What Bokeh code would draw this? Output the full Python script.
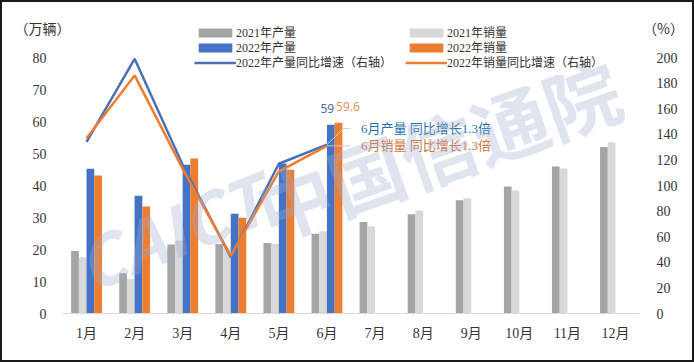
from bokeh.plotting import figure
from bokeh.models import Range1d, LinearAxis, FixedTicker, Legend, LegendItem, Label, ColumnDataSource
from bokeh.transform import dodge
from bokeh.embed import file_html
from bokeh.resources import INLINE
from bokeh.core.properties import value

# ---------------- data ----------------
months = ["1月", "2月", "3月", "4月", "5月", "6月", "7月", "8月", "9月", "10月", "11月", "12月"]
prod_2021 = [19.5, 12.6, 21.6, 21.7, 22.0, 24.9, 28.6, 31.0, 35.4, 39.7, 45.9, 52.0]
sales_2021 = [17.6, 10.8, 22.8, 20.6, 21.7, 25.7, 27.3, 32.2, 36.0, 38.4, 45.3, 53.4]
prod_2022 = [45.2, 36.8, 46.5, 31.2, 46.9, 59.0]
sales_2022 = [43.1, 33.4, 48.4, 29.9, 44.9, 59.6]
prod_growth = [134, 199, 116, 44, 117, 132]
sales_growth = [137, 186, 113, 45, 111, 131]
left_ticks = [0, 10, 20, 30, 40, 50, 60, 70, 80]
right_ticks = [0, 20, 40, 60, 80, 100, 120, 140, 160, 180, 200]
legend_labels = ["2021年产量", "2022年产量", "2022年产量同比增速（右轴）",
                 "2021年销量", "2022年销量", "2022年销量同比增速（右轴）"]
unit_titles = ["（万辆）", "（%）"]
callouts = ["6月产量 同比增长1.3倍", "6月销量 同比增长1.3倍"]
bar_labels = ["59", "59.6"]
watermark = ["CAICT", "中国信通院"]

# ---------------- styles / layout ----------------
SERIF = "Liberation Serif, Noto Sans CJK SC"
CJK = "Noto Sans CJK SC"
C_P21, C_S21, C_P22, C_S22 = "#A5A5A5", "#D9D9D9", "#4472C4", "#ED7D31"
C_LP, C_LS = "#4A70B8", "#ED7D31"
BW = 0.161
W, H = 694, 362
PL, PR, PB = 62, 639, 313            # plot-area edges in pixels
CAT = (PR - PL) / 12                  # pixels per month
PX_L = 3.2                            # pixels per left-axis unit
PX_R = 1.28                           # pixels per right-axis unit

x_all = list(range(12))
x_22 = x_all[:6]

src21 = ColumnDataSource(dict(x=x_all, p=prod_2021, s=sales_2021))
src22 = ColumnDataSource(dict(x=x_22, p=prod_2022, s=sales_2022, gp=prod_growth, gs=sales_growth))

# the frame fills the whole canvas; axes are pinned at fixed locations inside it
p = figure(width=W, height=H, title=None,
           x_range=Range1d(-0.5 - PL / CAT, 11.5 + (W - PR) / CAT),
           y_range=Range1d(-(H - PB) / PX_L, PB / PX_L),
           output_backend="svg", toolbar_location=None, x_axis_type=None, y_axis_type=None,
           min_border_left=0, min_border_right=0, min_border_top=0, min_border_bottom=0)
p.extra_y_ranges = {"pct": Range1d(-(H - PB) / PX_R, PB / PX_R)}
p.outline_line_color = "#1A1A1A"
p.outline_line_width = 3
p.xgrid.visible = False
p.ygrid.visible = False

# bars
r_p21 = p.vbar(x=dodge("x", -0.24), top="p", width=BW, source=src21, fill_color=C_P21, line_color=None)
r_s21 = p.vbar(x=dodge("x", -0.08), top="s", width=BW, source=src21, fill_color=C_S21, line_color=None)
r_p22 = p.vbar(x=dodge("x", 0.08), top="p", width=BW, source=src22, fill_color=C_P22, line_color=None)
r_s22 = p.vbar(x=dodge("x", 0.24), top="s", width=BW, source=src22, fill_color=C_S22, line_color=None)

# growth lines
r_lp = p.line(x="x", y="gp", source=src22, y_range_name="pct", line_color=C_LP, line_width=2.5)
r_ls = p.line(x="x", y="gs", source=src22, y_range_name="pct", line_color=C_LS, line_width=2.5)

def style_axis(ax, standoff):
    ax.major_tick_line_color = None
    ax.minor_tick_line_color = None
    ax.major_label_text_font = SERIF
    ax.major_label_text_font_size = "14px"
    ax.major_label_text_color = "#333333"
    ax.major_label_standoff = standoff

xax = LinearAxis(ticker=FixedTicker(ticks=x_all), fixed_location=0, bounds=(-0.5, 11.5))
xax.major_label_overrides = {i: m for i, m in enumerate(months)}
xax.axis_line_color = "#D9D9D9"
style_axis(xax, 6)
p.add_layout(xax, "below")

ly = LinearAxis(ticker=FixedTicker(ticks=left_ticks), fixed_location=-0.5)
ly.axis_line_color = None
style_axis(ly, 10)
p.add_layout(ly, "left")

ry = LinearAxis(y_range_name="pct", ticker=FixedTicker(ticks=right_ticks), fixed_location=11.5)
ry.axis_line_color = None
style_axis(ry, 11)
p.add_layout(ry, "right")

# unit titles
p.add_layout(Label(x=42, y=H - 27, x_units="screen", y_units="screen", text=unit_titles[0],
                   text_font=CJK, text_font_size="14px", text_color="#333333",
                   text_align="center", text_baseline="middle"))
p.add_layout(Label(x=663, y=H - 27, x_units="screen", y_units="screen", text=unit_titles[1],
                   text_font=CJK, text_font_size="14px", text_color="#333333",
                   text_align="center", text_baseline="middle"))

# bar value labels for June
jun = 5
p.text(x=[jun + 0.15], y=[prod_2022[jun]], text=[bar_labels[0]], text_align="right",
       text_baseline="bottom", y_offset=-12, text_font=value("Noto Sans"),
       text_font_size="12px", text_color="#4A6FA5")
p.text(x=[jun + 0.19], y=[sales_2022[jun]], text=[bar_labels[1]], text_align="left",
       text_baseline="bottom", y_offset=-12, text_font=value("Noto Sans"),
       text_font_size="12px", text_color="#E0955E")

# callouts with leader lines
cy_p = prod_growth[jun] + 12.5
cy_s = sales_growth[jun]
p.line(x=[jun, jun + 0.35, jun + 0.49], y=[prod_growth[jun], cy_p, cy_p], y_range_name="pct",
       line_color="#D0D0D0", line_width=1)
p.line(x=[jun, jun + 0.49], y=[cy_s, cy_s], y_range_name="pct", line_color="#C8C8C8", line_width=1)
p.text(x=[jun + 0.71], y=[cy_p], text=[callouts[0]], y_range_name="pct", text_align="left",
       text_baseline="middle", text_font=value(SERIF), text_font_size="13px", text_color="#2672A8")
p.text(x=[jun + 0.71], y=[cy_s], text=[callouts[1]], y_range_name="pct", text_align="left",
       text_baseline="middle", text_font=value(SERIF), text_font_size="13px", text_color="#D0743C")

# watermark (screen units)
p.add_layout(Label(x=170, y=H - 229, x_units="screen", y_units="screen", text=watermark[0], angle=0.38,
                   text_font=CJK, text_font_style="bold italic", text_font_size="68px",
                   text_color="#9FAECF", text_alpha=0.33, text_align="center", text_baseline="middle"))
p.add_layout(Label(x=437, y=H - 147, x_units="screen", y_units="screen", text=watermark[1], angle=0.34,
                   text_font=CJK, text_font_style="bold", text_font_size="76px",
                   text_color="#9FAECF", text_alpha=0.33, text_align="center", text_baseline="middle"))

# legends: one per entry so each row sits exactly where the reference has it
ROW_H = 18
def row_legend(label, renderer, col_x, row_cy):
    return Legend(items=[LegendItem(label=label, renderers=[renderer])],
                  location=(col_x, H - row_cy - ROW_H / 2), orientation="vertical",
                  label_text_font=SERIF, label_text_font_size="12px", label_text_color="#333333",
                  label_height=ROW_H, glyph_height=11, glyph_width=42, label_standoff=0,
                  spacing=0, padding=0, margin=0, border_line_color=None, background_fill_alpha=0)

rows_cy = [32, 47, 62]
for lab, rend, cy in zip(legend_labels[:3], [r_p21, r_p22, r_lp], rows_cy):
    p.add_layout(row_legend(lab, rend, 194, cy), "center")
for lab, rend, cy in zip(legend_labels[3:], [r_s21, r_s22, r_ls], rows_cy):
    p.add_layout(row_legend(lab, rend, 405, cy), "center")

open("out.html", "w").write(file_html(p, INLINE))
